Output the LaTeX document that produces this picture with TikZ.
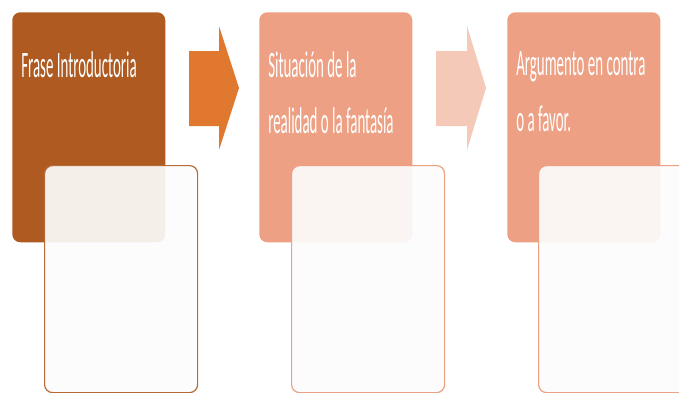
\documentclass[tikz,border=0pt]{standalone}
\usepackage{fontspec}
\newfontfamily\boxfont[FakeStretch=0.40]{Carlito}
\usetikzlibrary{positioning}

\definecolor{rust}{HTML}{AE5A21}
\definecolor{pumpkin}{HTML}{E0782F}
\definecolor{salmon}{HTML}{EDA083}
\definecolor{blush}{HTML}{F5C9B8}
\definecolor{paper}{HTML}{FCFCFC}

\begin{document}
\begin{tikzpicture}[x=0.75pt,y=-0.75pt,
  topbox/.style={rectangle,rounded corners=6pt,inner sep=0pt,anchor=north west,
    minimum width=114.75pt,minimum height=172.5pt},
  lowbox/.style={rectangle,rounded corners=6pt,inner sep=0pt,anchor=north west,
    line width=0.9pt,fill=paper,fill opacity=0.92,
    minimum width=114.75pt,minimum height=170.25pt},
  boxtext/.style={anchor=north west,inner sep=0pt,align=left,text=white,
    font=\boxfont\fontsize{28}{42}\selectfont}]
  \useasboundingbox (0,0) rectangle (679,393);
  \clip (0,0) rectangle (679,393);

  % Frase Introductoria
  \node[topbox,fill=rust] (frase) at (12,12) {};
  \node[boxtext] (fraseText) at ([xshift=6.75pt,yshift=-29.5pt]frase.north west)
    {Frase Introductoria};

  % first arrow
  \fill[pumpkin] (189,51) -- (219,51) -- (219,26) -- (239,88) -- (219,150)
    -- (219,126) -- (189,126) -- cycle;

  % Situacion
  \node[topbox,fill=salmon] (situacion) at (259,12) {};
  \node[boxtext] (situacionText) at ([xshift=6.75pt,yshift=-29.5pt]situacion.north west)
    {Situación de la\\realidad o la fantasía};

  % second arrow
  \fill[blush] (436,51) -- (467,51) -- (467,26) -- (486,88) -- (467,150)
    -- (467,126) -- (436,126) -- cycle;

  % Argumento
  \node[topbox,fill=salmon] (argumento) at (507,12) {};
  \node[boxtext] (argumentoText) at ([xshift=6.75pt,yshift=-29.5pt]argumento.north west)
    {Argumento en contra\\o a favor.};

  % lower boxes
  \node[lowbox,draw=rust!90!white] (fraseLow) at (44,165) {};
  \node[lowbox,draw=salmon] (situacionLow) at (291,165) {};
  \node[lowbox,draw=salmon] (argumentoLow) at (538,165) {};

\end{tikzpicture}
\end{document}
